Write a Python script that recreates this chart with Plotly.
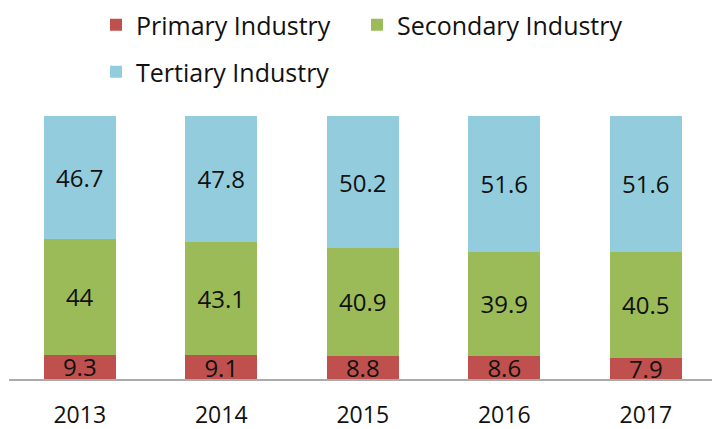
import plotly.graph_objects as go

years = ["2013", "2014", "2015", "2016", "2017"]
primary = [9.3, 9.1, 8.8, 8.6, 7.9]
secondary = [44, 43.1, 40.9, 39.9, 40.5]
tertiary = [46.7, 47.8, 50.2, 51.6, 51.6]

series = [
    ("Primary Industry", primary, "#C0504D", "legend"),
    ("Secondary Industry", secondary, "#9BBB59", "legend2"),
    ("Tertiary Industry", tertiary, "#93CDDD", "legend3"),
]

FONT = "Open Sans"
TXT = "#111111"

fig = go.Figure()
for name, vals, color, leg in series:
    fig.add_trace(go.Bar(
        x=years, y=vals, name=name,
        marker=dict(color=color, line=dict(width=0)),
        width=0.51,
        text=[str(v) for v in vals],
        textposition="inside",
        insidetextanchor="middle",
        textangle=0,
        textfont=dict(family=FONT, size=24, color=TXT),
        legend=leg,
        showlegend=True,
        hoverinfo="skip",
    ))

leg_common = dict(
    xref="container", yref="container",
    xanchor="left", yanchor="middle",
    font=dict(family=FONT, size=25, color=TXT),
    bgcolor="rgba(0,0,0,0)",
    borderwidth=0,
    orientation="h",
    visible=True,
)

fig.update_layout(
    width=712, height=429,
    showlegend=True,
    margin=dict(l=9, r=0, t=116, b=50, pad=0, autoexpand=False),
    paper_bgcolor="white", plot_bgcolor="white",
    barmode="stack", barnorm="percent",
    uniformtext=dict(minsize=24, mode="show"),
    font=dict(family=FONT, color=TXT),
    legend=dict(x=96 / 712, y=1 - 25 / 429, **leg_common),
    legend2=dict(x=357 / 712, y=1 - 25 / 429, **leg_common),
    legend3=dict(x=96 / 712, y=1 - 72 / 429, **leg_common),
    xaxis=dict(
        type="category",
        range=[-0.5, 4.468],
        showline=True, linecolor="#ABABAB", linewidth=2,
        showgrid=False, zeroline=False, ticks="",
        tickfont=dict(family=FONT, size=23, color=TXT),
        ticklabelstandoff=14,
        automargin=False,
    ),
    yaxis=dict(
        range=[0, 100],
        showticklabels=False, showgrid=False, zeroline=False, showline=False,
        automargin=False,
    ),
)

fig.write_html(
    "out.html",
    config={"displayModeBar": False, "staticPlot": True},
    post_script="document.body.style.margin='0';document.body.style.overflow='hidden';",
)
